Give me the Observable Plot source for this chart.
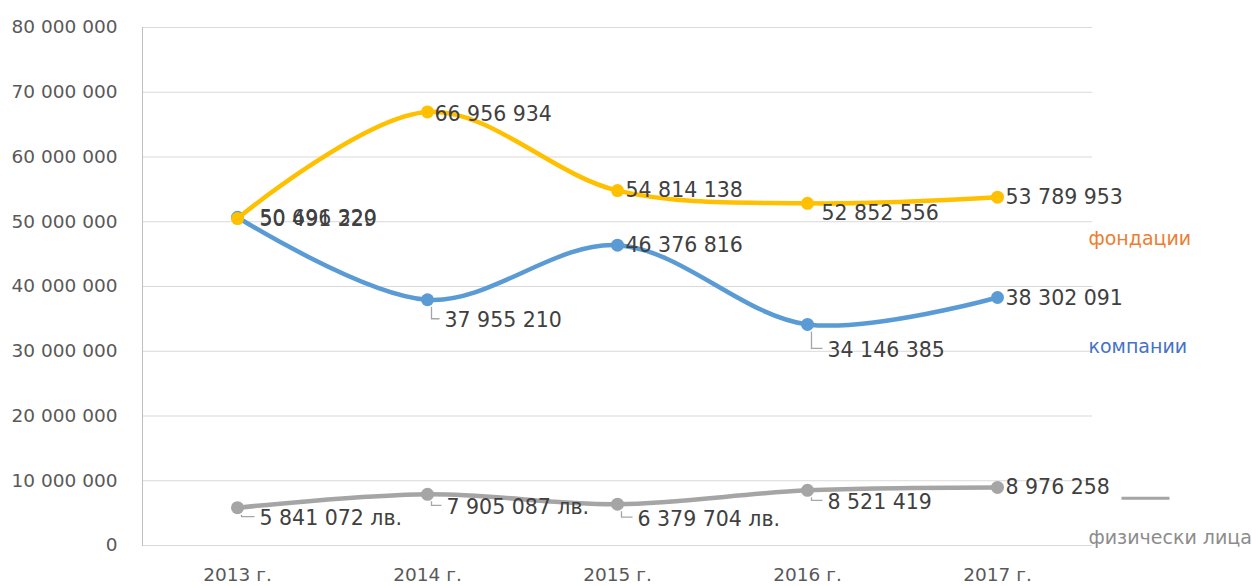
<!DOCTYPE html>
<html><head><meta charset="utf-8">
<script src="https://cdn.jsdelivr.net/npm/d3@7"></script>
<script src="https://cdn.jsdelivr.net/npm/@observablehq/plot@0.6"></script>
<style>body{margin:0;background:#fff} svg{display:block}</style>
</head><body><div id="chart"></div>
<script>
// ---- data ----
const years = ["2013 г.", "2014 г.", "2015 г.", "2016 г.", "2017 г."];
const fondacii = [50491229, 66956934, 54814138, 52852556, 53789953];
const kompanii = [50696320, 37955210, 46376816, 34146385, 38302091];
const fizicheski = [5841072, 7905087, 6379704, 8521419, 8976258];
const fizicheskiSuffix = [" лв.", " лв.", " лв.", "", ""];
const seriesNames = ["фондации", "компании", "физически лица"];
const yTicks = [0, 10000000, 20000000, 30000000, 40000000, 50000000, 60000000, 70000000, 80000000];

// ---- presentation ----
const colors = {"фондации": "#FFC000", "компании": "#5B9BD5", "физически лица": "#A5A5A5"};
const legendColors = {"фондации": "#ED7D31", "компании": "#4472C4", "физически лица": "#8C8C8C"};
const legendY = {"фондации": 47400000, "компании": 30700000, "физически лица": 1200000};
// label offsets [dx, dy, leader]
const offsets = {
  "фондации": [[22,1,false],[7,2,false],[8,0,false],[14,10,false],[8,0,false]],
  "компании": [[22,1,false],[17,21,true],[8,0,false],[20,26,true],[8,1,false]],
  "физически лица": [[22,11,true],[19,13,true],[20,15,true],[20,12,true],[8,0,false]]
};

const loc = d3.formatLocale({thousands: " ", grouping: [3], decimal: ","});
const fmt = loc.format(",d");

const valuesBy = {"фондации": fondacii, "компании": kompanii, "физически лица": fizicheski};
function rows(name) {
  return years.map((year, i) => ({
    year, value: valuesBy[name][i], series: name,
    label: fmt(valuesBy[name][i]) + (name === "физически лица" ? fizicheskiSuffix[i] : ""),
    dx: offsets[name][i][0], dy: offsets[name][i][1], leader: offsets[name][i][2]
  }));
}
const order = ["физически лица", "компании", "фондации"];

function leaderSymbol(dx, dy) {
  return {draw(ctx) {
    ctx.moveTo(4, 7);
    ctx.lineTo(4, dy - 2);
    ctx.lineTo(dx - 5, dy - 2);
  }};
}
const legendLine = {draw(ctx) { ctx.moveTo(0, 0); ctx.lineTo(48, 0); }};

const marks = [
  Plot.ruleY(yTicks, {stroke: "#D9D9D9", strokeWidth: 1}),
  Plot.frame({anchor: "left", stroke: "#BFBFBF"})
];
for (const name of order) {
  const data = rows(name);
  marks.push(Plot.line(data, {x: "year", y: "value", stroke: colors[name], strokeWidth: 4.5, curve: "catmull-rom"}));
  marks.push(Plot.dot(data, {x: "year", y: "value", fill: colors[name], r: 6.5}));
}
for (const name of order) {
  const data = rows(name);
  for (const d of data) {
    if (d.leader) {
      marks.push(Plot.dot([d], {x: "year", y: "value", symbol: leaderSymbol(d.dx, d.dy), fill: "none", stroke: "#A6A6A6", strokeWidth: 1.3, r: 5}));
    }
    marks.push(Plot.text([d], {x: "year", y: "value", text: "label", dx: d.dx, dy: d.dy, textAnchor: "start", fill: "#404040", fontSize: 20.5}));
  }
}
// legend
const legendData = seriesNames.map(n => ({name: n, year: years[years.length - 1], y: legendY[n]}));
marks.push(Plot.text(legendData, {x: "year", y: "y", text: "name", fill: d => legendColors[d.name], dx: 91, textAnchor: "start", fontSize: 19}));
marks.push(Plot.dot([{year: years[years.length - 1], y: 7300000}], {x: "year", y: "y", symbol: legendLine, fill: "none", stroke: "#A5A5A5", strokeWidth: 3, dx: 124}));

const chart = Plot.plot({
  width: 1252, height: 586,
  marginLeft: 142, marginRight: 160, marginTop: 27, marginBottom: 41,
  style: {fontFamily: "DejaVu Sans", fontSize: "18.5px", color: "#595959", background: "#fff", overflow: "visible"},
  x: {type: "point", domain: years, padding: 0.5, label: null, tickSize: 0, tickPadding: 22},
  y: {domain: [0, 80000000], ticks: yTicks, tickFormat: fmt, label: null, tickSize: 0, tickPadding: 25},
  marks
});
document.getElementById("chart").appendChild(chart);
</script></body></html>
